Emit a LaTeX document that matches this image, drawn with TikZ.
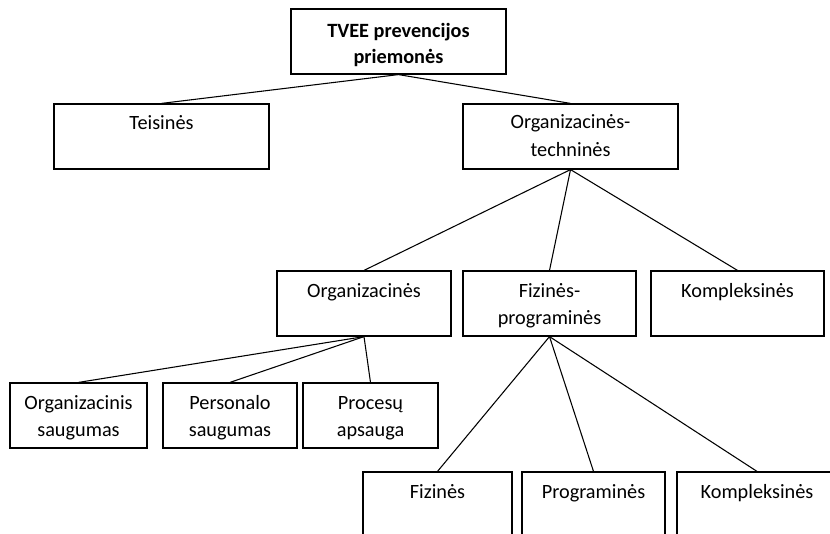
\documentclass[tikz,border=0pt]{standalone}
\usepackage{fontspec}
\setmainfont{Carlito}
\begin{document}
\begin{tikzpicture}[x=0.75pt,y=-0.75pt,
  box/.style={draw=black,line width=0.9pt,rectangle,inner sep=0pt},
  txt/.style={inner sep=0pt,anchor=base,font=\fontsize{15.2}{18}\selectfont},
  btxt/.style={txt,font=\fontsize{15.2}{18}\selectfont\bfseries},
  link/.style={draw=black,line width=0.8pt}]
\clip (0,0) rectangle (830,534);
% level 0
\node[box,minimum width=215*0.75pt,minimum height=65*0.75pt] (root) at (398.5,41.5) {};
\node[btxt] (root1) at (398.5,38) {TVEE prevencijos};
\node[btxt] (root2) at (398.5,64) {priemonės};
% level 1
\node[box,minimum width=215*0.75pt,minimum height=65*0.75pt] (teis) at (161.5,136.5) {};
\node[txt] (teis1) at (161.5,130) {Teisinės};
\node[box,minimum width=215*0.75pt,minimum height=65*0.75pt] (orgtech) at (570.5,136.5) {};
\node[txt] (orgtech1) at (570.5,129) {Organizacinės-};
\node[txt] (orgtech2) at (570.5,157) {techninės};
% level 2
\node[box,minimum width=174*0.75pt,minimum height=65*0.75pt] (org) at (364,303.5) {};
\node[txt] (org1) at (364,297) {Organizacinės};
\node[box,minimum width=173*0.75pt,minimum height=65*0.75pt] (fizprog) at (549.5,303.5) {};
\node[txt] (fizprog1) at (549.5,297) {Fizinės-};
\node[txt] (fizprog2) at (549.5,324) {programinės};
\node[box,minimum width=173*0.75pt,minimum height=65*0.75pt] (komp) at (737.5,303.5) {};
\node[txt] (komp1) at (737.5,297) {Kompleksinės};
% level 3, left branch
\node[box,minimum width=137*0.75pt,minimum height=65*0.75pt] (orgs) at (78.5,415.5) {};
\node[txt] (orgs1) at (78.5,409) {Organizacinis};
\node[txt] (orgs2) at (78.5,436) {saugumas};
\node[box,minimum width=134*0.75pt,minimum height=65*0.75pt] (pers) at (230,415.5) {};
\node[txt] (pers1) at (230,409) {Personalo};
\node[txt] (pers2) at (230,436) {saugumas};
\node[box,minimum width=135*0.75pt,minimum height=65*0.75pt] (proc) at (370.5,415.5) {};
\node[txt] (proc1) at (370.5,409) {Procesų};
\node[txt] (proc2) at (370.5,436) {apsauga};
% level 3, right branch
\node[box,minimum width=149*0.75pt,minimum height=90*0.75pt] (fiz) at (437.5,517) {};
\node[txt] (fiz1) at (437.5,498) {Fizinės};
\node[box,minimum width=143*0.75pt,minimum height=90*0.75pt] (prog) at (593.5,517) {};
\node[txt] (prog1) at (593.5,498) {Programinės};
\node[box,minimum width=160*0.75pt,minimum height=90*0.75pt] (kompb) at (757,517) {};
\node[txt] (kompb1) at (757,498) {Kompleksinės};
% connectors
\draw[link] (root.south) -- (teis.north);
\draw[link] (root.south) -- (orgtech.north);
\draw[link] (orgtech.south) -- (org.north);
\draw[link] (orgtech.south) -- (fizprog.north);
\draw[link] (orgtech.south) -- (komp.north);
\draw[link] (org.south) -- (orgs.north);
\draw[link] (org.south) -- (pers.north);
\draw[link] (org.south) -- (proc.north);
\draw[link] (fizprog.south) -- (fiz.north);
\draw[link] (fizprog.south) -- (prog.north);
\draw[link] (fizprog.south) -- (kompb.north);
\end{tikzpicture}
\end{document}
